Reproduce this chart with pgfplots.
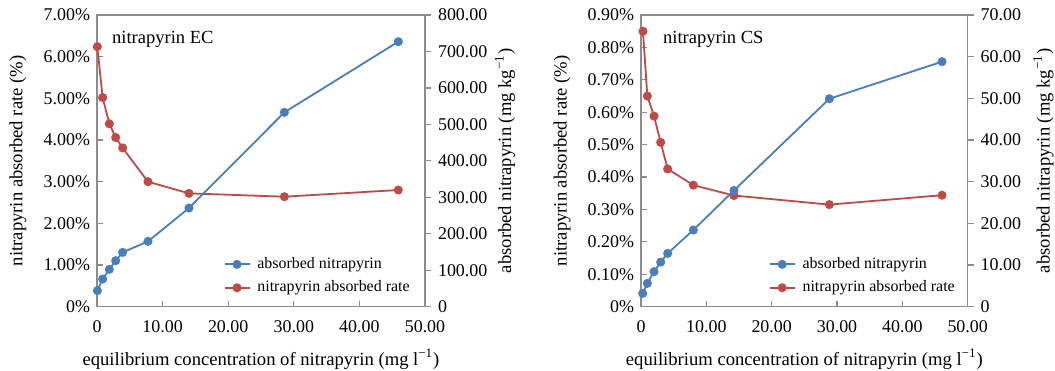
\documentclass[border=0pt]{standalone}
\usepackage{fontspec}
\setmainfont{Liberation Serif}
\usepackage{pgfplots}
\pgfplotsset{compat=1.18}
\definecolor{cblue}{RGB}{74,126,187}
\definecolor{cred}{RGB}{190,75,72}
\definecolor{cframe}{RGB}{140,140,140}
\pgfplotsset{
  base/.style={
    scale only axis, width=164bp, height=145.85bp,
    xmin=0, xmax=50,
    font=\fontsize{9.35}{11}\selectfont,
    every tick label/.append style={font=\fontsize{9}{11}\selectfont},
    axis line style={cframe, line width=0.6pt},
    major tick length=3bp,
    every tick/.style={cframe, line width=0.6pt},
  },
  leftax/.style={
    base, tick align=inside, xtick pos=bottom, ytick pos=left,
    xtick={0,10,20,30,40,50},
    xticklabels={0,10.00,20.00,30.00,40.00,50.00},
    xlabel={equilibrium concentration of nitrapyrin (mg l\textsuperscript{\char"2212 1})},
    xlabel style={at={(axis description cs:0.5,-0.179)}, anchor=center},
    ylabel={nitrapyrin absorbed rate (\%)},
    ylabel style={at={(axis description cs:-0.241,0.5)}, anchor=center},
    xticklabel style={yshift=-3.5bp},
  },
  rightax/.style={
    base, axis y line*=right, axis x line=none, tick align=outside,
    ylabel={absorbed nitrapyrin (mg kg\textsuperscript{\char"2212 1})},
    legend style={draw=none, fill=none, font=\fontsize{8}{10}\selectfont,
      legend cell align=left, anchor=west, inner sep=0pt, row sep=0.7bp, column sep=1.5bp},
    legend image code/.code={\draw[mark repeat=2,mark phase=2] plot coordinates {(0cm,0cm)(0.22cm,0cm)(0.44cm,0cm)};},
  },
  sred/.style={color=cred, line width=0.9pt, mark=*, mark size=1.8pt, mark options={fill=cred, draw=cred}},
  sblue/.style={color=cblue, line width=0.9pt, mark=*, mark size=1.8pt, mark options={fill=cblue, draw=cblue}},
}
\begin{document}
\begin{tikzpicture}
\path[use as bounding box] (0,0) rectangle (527.5bp,185.5bp);
% ---------- Left panel: nitrapyrin EC ----------
\begin{axis}[leftax, at={(48.5bp,32.15bp)}, anchor=south west,
  ymin=0, ymax=7, ytick={0,1,2,3,4,5,6,7},
  yticklabels={0\%,1.00\%,2.00\%,3.00\%,4.00\%,5.00\%,6.00\%,7.00\%}]
\addplot[sred] coordinates {
 (0.05,6.24) (0.86,5.02) (1.88,4.39) (2.85,4.06) (3.91,3.81)
 (7.77,3.00) (14.02,2.72) (28.56,2.64) (45.93,2.80)};
\node[anchor=base west, inner sep=0pt, font=\fontsize{9.3}{11}\selectfont] at (rel axis cs:0.0448,0.903) {nitrapyrin EC};
\end{axis}
\begin{axis}[rightax, at={(48.5bp,32.15bp)}, anchor=south west,
  ymin=0, ymax=800, ytick={0,100,200,300,400,500,600,700,800},
  yticklabels={0,100.00,200.00,300.00,400.00,500.00,600.00,700.00,800.00},
  ylabel style={at={(axis description cs:1.244,0.5)}, anchor=center},
  legend style={at={(axis description cs:0.385,0.105)}}]
\addplot[sblue] coordinates {
 (0.05,43.9) (0.86,75.9) (1.88,102.4) (2.85,126.2) (3.91,149.0)
 (7.77,179.2) (14.02,270.6) (28.56,533.0) (45.93,726.9)};
\addlegendentry{absorbed nitrapyrin}
\addlegendimage{sred}
\addlegendentry{nitrapyrin absorbed rate}
\end{axis}
% ---------- Right panel: nitrapyrin CS ----------
\begin{axis}[leftax, at={(320.5bp,32.15bp)}, anchor=south west, width=163.35bp,
  ymin=0, ymax=0.9, ytick={0,0.1,0.2,0.3,0.4,0.5,0.6,0.7,0.8,0.9},
  yticklabels={0\%,0.10\%,0.20\%,0.30\%,0.40\%,0.50\%,0.60\%,0.70\%,0.80\%,0.90\%}]
\addplot[sred] coordinates {
 (0.3,0.850) (0.97,0.650) (1.99,0.588) (3.01,0.507) (4.08,0.425)
 (8.01,0.375) (14.23,0.343) (28.83,0.315) (46.07,0.344)};
\node[anchor=base west, inner sep=0pt, font=\fontsize{9.3}{11}\selectfont] at (rel axis cs:0.0664,0.903) {nitrapyrin CS};
\end{axis}
\begin{axis}[rightax, at={(320.5bp,32.15bp)}, anchor=south west, width=163.35bp,
  ymin=0, ymax=70, ytick={0,10,20,30,40,50,60,70},
  yticklabels={0,10.00,20.00,30.00,40.00,50.00,60.00,70.00},
  ylabel style={at={(axis description cs:1.232,0.5)}, anchor=center},
  legend style={at={(axis description cs:0.39,0.105)}}]
\addplot[sblue] coordinates {
 (0.26,3.2) (0.97,5.6) (1.99,8.4) (3.01,10.7) (4.08,12.8)
 (8.01,18.4) (14.23,27.9) (28.83,49.9) (46.07,58.8)};
\addlegendentry{absorbed nitrapyrin}
\addlegendimage{sred}
\addlegendentry{nitrapyrin absorbed rate}
\end{axis}
\end{tikzpicture}
\end{document}
